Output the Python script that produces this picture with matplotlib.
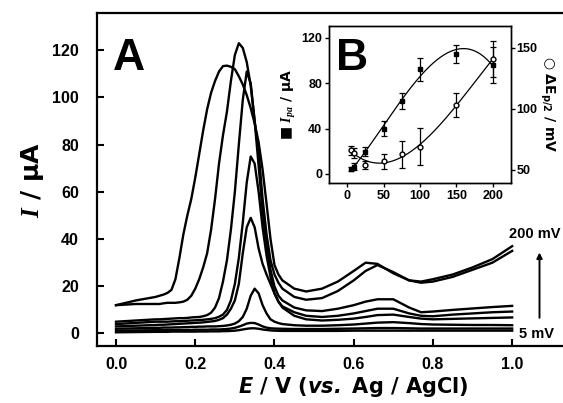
import numpy as np
import matplotlib
matplotlib.use("Agg")
import matplotlib.pyplot as plt

plt.rcParams['font.family'] = ['DejaVu Sans']
plt.rcParams['font.weight'] = 'bold'
plt.rcParams['axes.labelweight'] = 'bold'
plt.rcParams['mathtext.fontset'] = 'custom'
plt.rcParams['mathtext.it'] = 'Liberation Serif:italic:bold'
plt.rcParams['mathtext.sf'] = 'DejaVu Sans:italic:bold'
plt.rcParams['mathtext.rm'] = 'DejaVu Sans:bold'
plt.rcParams['mathtext.bf'] = 'DejaVu Sans:bold'

# potential grid (V vs. Ag/AgCl)
E = [0.00, 0.05,
     0.10, 0.11, 0.12, 0.13, 0.14, 0.15, 0.16, 0.17, 0.18, 0.19,
     0.20, 0.21, 0.22, 0.23, 0.24, 0.25, 0.26, 0.27, 0.28, 0.29,
     0.30, 0.31, 0.32, 0.33, 0.34, 0.35, 0.36, 0.37, 0.38, 0.39,
     0.40, 0.41, 0.42,
     0.45, 0.48, 0.52, 0.56, 0.60, 0.63, 0.66, 0.70, 0.74, 0.77,
     0.80, 0.85, 0.90, 0.95, 1.00]

# currents (uA) for each scan rate (mV/s)
i_200 = [12, 14,
         15.5, 16, 16.5, 17.2, 18.5, 23, 32, 42, 50, 57,
         66, 76, 86, 95, 102, 107, 111, 113.3, 113.5, 113,
         112, 109, 105.5, 101, 95.5, 89, 81, 69.5, 55, 40,
         29, 25, 22.5,
         19, 17.8, 19, 22, 26.5, 30, 29.5, 25.5, 22.5, 22,
         23, 25, 28, 31.5, 37]
i_150 = [12, 12.5,
         12.5, 12.5, 12.8, 13, 13, 13, 13.2, 13.5, 14.3, 16,
         19, 23, 28, 34, 44, 57, 72, 84, 94, 107,
         118, 123, 121, 115, 105, 90, 77, 57, 42, 31,
         25, 21.5, 19,
         15.5, 14.3, 15, 18, 22.5, 26.5, 29, 26, 22.5, 21.5,
         22, 24, 27, 30, 35]
i_100 = [5, 5.5,
         6, 6, 6.1, 6.2, 6.3, 6.4, 6.5, 6.5, 6.6, 6.8,
         6.9, 7, 7.3, 7.8, 8.8, 11, 15, 22, 31, 44,
         60, 80, 99, 111, 106, 90, 71, 52, 37, 27,
         20, 16, 14,
         11, 9.8, 9.5, 10.5, 12, 13.5, 14.5, 14.5, 11, 9,
         9.3, 10, 10.6, 11.2, 11.7]
i_75 = [4, 4.5,
        5, 5, 5, 5, 5.1, 5.2, 5.2, 5.3, 5.4, 5.5,
        5.6, 5.7, 5.8, 6, 6.2, 6.5, 7.1, 8, 10, 14,
        21, 32, 47, 64, 75, 72, 60, 45, 33, 24,
        17, 13.5, 11.5,
        9, 7.5, 7, 7.5, 8.5, 9.5, 10.5, 10.5, 8.5, 7.5,
        7.3, 8, 8.5, 9, 9.3]
i_50 = [3, 3.3,
        3.6, 3.7, 3.7, 3.8, 3.9, 4, 4.1, 4.2, 4.3, 4.4,
        4.5, 4.6, 4.7, 4.9, 5.1, 5.3, 5.8, 6.5, 8, 10.5,
        14, 21, 34, 45, 49, 45, 36, 29.5, 25, 21,
        17, 13.5, 11,
        7.5, 6, 5.5, 5.8, 6.3, 7, 7.8, 8, 7, 6.3,
        6, 6.2, 6.4, 6.6, 6.8]
i_25 = [2, 2.2,
        2.4, 2.4, 2.5, 2.5, 2.5, 2.6, 2.6, 2.7, 2.7, 2.8,
        2.8, 2.9, 2.9, 3, 3, 3, 3.1, 3.2, 3.4, 3.7,
        4.2, 5.2, 7, 10.5, 16, 19, 17, 12, 8.5, 6,
        5, 4.4, 4,
        3.5, 3.3, 3.3, 3.5, 3.8, 4.2, 4.6, 4.8, 4.4, 4,
        3.8, 3.7, 3.6, 3.6, 3.5]
i_10 = [1.2, 1.3,
        1.4, 1.4, 1.4, 1.4, 1.4, 1.5, 1.5, 1.5, 1.5, 1.5,
        1.6, 1.6, 1.6, 1.6, 1.7, 1.7, 1.7, 1.8, 1.9, 2.1,
        2.4, 2.9, 3.5, 4.2, 4.5, 4.4, 3.8, 3, 2.5, 2.2,
        2.1, 2.05, 2,
        1.9, 1.9, 1.9, 2, 2.1, 2.2, 2.3, 2.3, 2.2, 2.1,
        2.1, 2.1, 2.1, 2.1, 2.1]
i_5 = [0.5, 0.6,
       0.7, 0.7, 0.7, 0.7, 0.8, 0.8, 0.8, 0.8, 0.8, 0.8,
       0.8, 0.85, 0.85, 0.85, 0.9, 0.9, 0.9, 1, 1, 1.1,
       1.2, 1.4, 1.7, 2, 2.2, 2.2, 2, 1.7, 1.5, 1.3,
       1.2, 1.15, 1.1,
       1.1, 1.1, 1.1, 1.1, 1.2, 1.2, 1.2, 1.2, 1.2, 1.2,
       1.2, 1.2, 1.2, 1.2, 1.2]
curves = [i_200, i_150, i_100, i_75, i_50, i_25, i_10, i_5]

# inset B: peak current and half-peak separation vs. scan rate
scan_rate = [5, 10, 25, 50, 75, 100, 150, 200]
ipa = [4.4, 6.4, 19.6, 40, 64, 92, 106, 96]
ipa_err = [1.5, 3, 4, 7, 7, 10, 8, 16]
dE = [66, 64, 54, 57, 63, 69, 103, 141]
dE_err = [4, 4, 3, 6, 11, 15, 10, 15]

fig = plt.figure(figsize=(5.63, 4.03), dpi=100)
ax = fig.add_axes([97 / 563, 57 / 403, 473 / 563, 333 / 403])

for c in curves:
    ax.plot(E, c, color='black', lw=1.7, solid_joinstyle='round')

ax.set_xlim(-0.048, 1.146)
ax.set_ylim(-5.3, 135.8)
ax.set_xticks([0.0, 0.2, 0.4, 0.6, 0.8, 1.0])
ax.set_yticks([0, 20, 40, 60, 80, 100, 120])
ax.set_xticklabels(['0.0', '0.2', '0.4', '0.6', '0.8', '1.0'])
ax.tick_params(direction='in', length=5, width=1.5)
ax.tick_params(axis='y', pad=13)
ax.tick_params(axis='x', pad=8)
for lab in ax.get_xticklabels() + ax.get_yticklabels():
    lab.set_fontfamily('Liberation Sans')
    lab.set_fontweight('bold')
    lab.set_fontsize(11.5)
for s in ax.spines.values():
    s.set_linewidth(1.6)
ax.spines['right'].set_visible(False)

ax.set_xlabel(r'$\mathsf{E}$ / V ($\mathsf{vs.}$ Ag / AgCl)', fontsize=15,
              fontweight='bold')
ax.xaxis.set_label_coords(0.541, -0.088)
ax.set_ylabel(r'$I$ / μA', fontsize=18, fontweight='bold')
ax.yaxis.set_label_coords(-0.108, 0.5)

ax.text(0.032, 111.6, 'A', fontsize=32, fontweight='bold', ha='center',
        va='baseline', family='Liberation Sans')
ax.text(1.058, 40.3, '200 mV', fontsize=10.5, fontweight='bold',
        ha='center', va='baseline', family='Liberation Sans')
ax.text(1.062, -2.0, '5 mV', fontsize=10.5, fontweight='bold',
        ha='center', va='baseline', family='Liberation Sans')
ax.annotate('', xy=(1.069, 35.5), xytext=(1.069, 5.5),
            arrowprops=dict(arrowstyle='-|>', color='black', lw=1.4,
                            mutation_scale=8))

# inset
ins = fig.add_axes([329 / 563, 220 / 403, 182 / 563, 157 / 403])
ins.set_facecolor('white')
xs = np.linspace(5, 200, 200)
p1 = np.polyfit(scan_rate, ipa, 3)
ins.plot(xs, np.polyval(p1, xs), color='black', lw=0.9)
ins.errorbar(scan_rate, ipa, yerr=ipa_err, fmt='s', color='black',
             ms=3, lw=0.9, capsize=2, capthick=0.9)
ins.set_xlim(-25, 225)
ins.set_ylim(-8, 130.3)
ins.set_xticks([0, 50, 100, 150, 200])
ins.set_yticks([0, 40, 80, 120])
ins.tick_params(direction='out', length=3, width=1, pad=2)
ins.set_ylabel('■ $I_{pa}$ / μA', fontsize=10, fontweight='bold')
ins.yaxis.set_label_coords(-0.17, 0.5)

ins2 = ins.twinx()
p2 = np.polyfit(scan_rate, dE, 3)
ins2.plot(xs, np.polyval(p2, xs), color='black', lw=0.9)
ins2.errorbar(scan_rate, dE, yerr=dE_err, fmt='o', color='black',
              mfc='white', ms=3.5, lw=0.9, capsize=2, capthick=0.9)
ins2.set_ylim(39.3, 168)
ins2.set_yticks([50, 100, 150])
ins2.tick_params(direction='out', length=3, width=1, pad=1)
ins2.set_ylabel(r'○ ΔE$_{\mathrm{p/2}}$ / mV', fontsize=10, rotation=270,
                fontweight='bold')
ins2.yaxis.set_label_coords(1.25, 0.5)

for a in (ins, ins2):
    for lab in a.get_xticklabels() + a.get_yticklabels():
        lab.set_fontfamily('Liberation Sans')
        lab.set_fontweight('bold')
        lab.set_fontsize(9)
    for s in a.spines.values():
        s.set_linewidth(1.0)

ins.text(6.2, 91.5, 'B', fontsize=32, fontweight='bold', ha='center',
         va='baseline', family='Liberation Sans')

fig.savefig('out.png', dpi=100)
